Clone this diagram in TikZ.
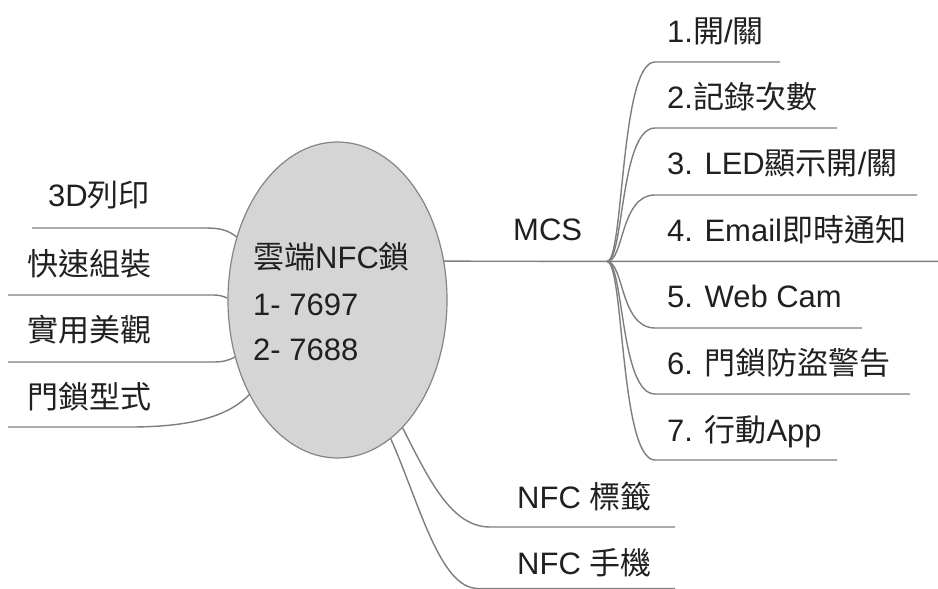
\documentclass[tikz,border=0pt]{standalone}
\usepackage{fontspec}
\setmainfont{Liberation Sans}
\newfontfamily\cjk{Noto Sans CJK TC}
\newcommand\zh[1]{{\cjk #1}}
\usetikzlibrary{shapes.geometric}
\definecolor{linegray}{HTML}{7E7E7E}
\definecolor{hubfill}{HTML}{D5D5D5}
\definecolor{hubdraw}{HTML}{858585}
\definecolor{txt}{HTML}{202020}
\tikzset{
  lbl/.style={anchor=base west, inner sep=0pt, text=txt, font=\fontsize{31}{36}\selectfont},
  branch/.style={draw=linegray, line width=1.4pt},
  hubshape/.style={ellipse, draw=hubdraw, fill=hubfill, line width=1.2pt, minimum width=219pt, minimum height=316pt, inner sep=0pt}
}
\begin{document}
\begin{tikzpicture}[x=1pt,y=-1pt]
\useasboundingbox (0,0) rectangle (938,589);
\fill[white] (0,0) rectangle (938,589);

% central hub
\node[hubshape] (hub) at (337.5,300) {};
\node[lbl] (h1) at (253,268) {\zh{雲端}NFC\zh{鎖}};
\node[lbl] (h2) at (253,315) {1- 7697};
\node[lbl] (h3) at (253,360) {2- 7688};

% left items
\node[lbl] (l1) at (48,206) {3D\zh{列印}};
\node[lbl] (l2) at (27,275) {\zh{快速組裝}};
\node[lbl] (l3) at (27,341) {\zh{實用美觀}};
\node[lbl] (l4) at (27,408) {\zh{門鎖型式}};
\coordinate (l1e) at (32,228);
\coordinate (l2e) at (8,295);
\coordinate (l3e) at (8,362);
\coordinate (l4e) at (8,427);
\draw[branch] (hub.148) .. controls (228,230) and (220,228) .. (205,228) -- (l1e);
\draw[branch] (hub.179) .. controls (222,296) and (220,295) .. (212,295) -- (l2e);
\draw[branch] (hub.209) .. controls (228,361) and (222,362) .. (212,362) -- (l3e);
\draw[branch] (hub.227) .. controls (225,420) and (180,427) .. (130,427) -- (l4e);

% MCS
\node[lbl] (mcs) at (513,240) {MCS};
\coordinate (B) at (607,261.4);
\coordinate (mcse) at (938,261.4);
\draw[branch] (hub.20) -- (B) -- (mcse);

\node[lbl] (t1) at (667,42) {1.\zh{開}/\zh{關}};
\node[lbl] (t2) at (667,108) {2.\zh{記錄次數}};
\node[lbl] (t3) at (667,174) {3. LED\zh{顯示開}/\zh{關}};
\node[lbl] (t4) at (667,241) {4. Email\zh{即時通知}};
\node[lbl] (t5) at (667,307) {5. Web Cam};
\node[lbl] (t6) at (667,374) {6. \zh{門鎖防盜警告}};
\node[lbl] (t7) at (667,441) {7. \zh{行動}App};

\coordinate (e1) at (780,62);
\coordinate (e2) at (837,128);
\coordinate (e3) at (917,195);
\coordinate (e5) at (862,328);
\coordinate (e6) at (910,394);
\coordinate (e7) at (837,460);
\draw[branch] (B) .. controls (624,262) and (620,62) .. (655,62) -- (e1);
\draw[branch] (B) .. controls (624,262) and (620,128) .. (655,128) -- (e2);
\draw[branch] (B) .. controls (624,262) and (620,195) .. (655,195) -- (e3);
\draw[branch] (B) .. controls (624,262) and (620,328) .. (655,328) -- (e5);
\draw[branch] (B) .. controls (624,262) and (620,394) .. (655,394) -- (e6);
\draw[branch] (B) .. controls (624,262) and (620,460) .. (655,460) -- (e7);

% NFC items
\node[lbl] (n1) at (517,508) {NFC \zh{標籤}};
\node[lbl] (n2) at (517,574) {NFC \zh{手機}};
\coordinate (n1e) at (675,527);
\coordinate (n2e) at (675,588.5);
\draw[branch] (hub.-63.3) .. controls (430,482) and (452,527) .. (490,527) -- (n1e);
\draw[branch] (hub.-69) .. controls (420,505) and (440,588.5) .. (478,588.5) -- (n2e);
\end{tikzpicture}
\end{document}
